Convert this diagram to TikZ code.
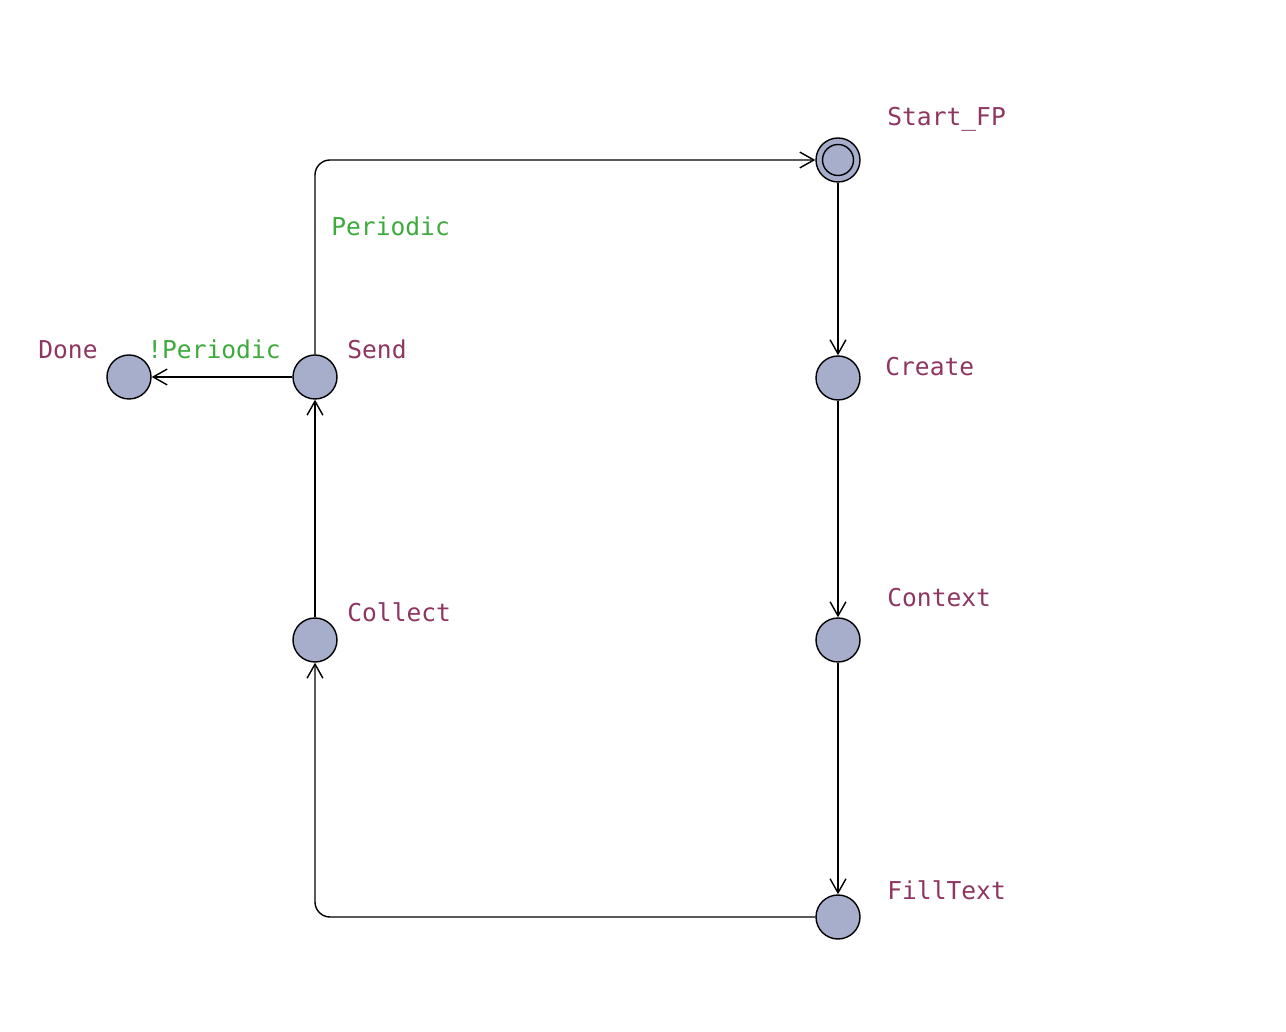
\documentclass[tikz,border=0pt]{standalone}
\usepackage{fontspec}
\setmonofont{DejaVu Sans Mono}
\usepackage{tikz}
\usetikzlibrary{arrows.meta}
\definecolor{locname}{HTML}{8E3560}
\definecolor{guard}{HTML}{3DAA3D}
\definecolor{locfill}{HTML}{A6AECC}
\tikzstyle{loc}=[draw=black,fill=locfill,line width=0.8pt,circle,minimum size=0.88cm,inner sep=0pt]
\tikzstyle{lname}=[text=locname,anchor=base west,inner sep=0pt,font=\ttfamily\fontsize{14}{16}\selectfont]
\tikzstyle{glabel}=[lname,text=guard]
\tikzstyle{trans}=[draw=black,line width=0.8pt,-{Straight Barb[length=8pt,width=9pt]}]

\begin{document}
\begin{tikzpicture}
        \useasboundingbox (0,0) rectangle (25.72,20.64);
        % locations
        \node[loc] (start) at (16.76,17.44) {};
        \node[draw=black,line width=0.8pt,circle,minimum size=0.62cm,inner sep=0pt] (startin) at (start) {};
        \node[loc] (create) at (16.76,13.08) {};
        \node[loc] (context) at (16.76,7.84) {};
        \node[loc] (fill) at (16.76,2.30) {};
        \node[loc] (collect) at (6.30,7.84) {};
        \node[loc] (send) at (6.30,13.10) {};
        \node[loc] (done) at (2.58,13.10) {};
        \coordinate (top) at (6.30,17.44);
        \coordinate (bot) at (6.30,2.30);
        % names
        \node[lname] (nstart) at (17.74,18.12) {Start\_FP};
        \node[lname] (ncreate) at (17.70,13.12) {Create};
        \node[lname] (ncontext) at (17.74,8.50) {Context};
        \node[lname] (nfill) at (17.74,2.64) {FillText};
        \node[lname] (ncollect) at (6.94,8.20) {Collect};
        \node[lname] (nsend) at (6.94,13.46) {Send};
        \node[lname] (ndone) at (0.76,13.46) {Done};
        % guards
        \node[glabel] (gper) at (6.62,15.92) {Periodic};
        \node[glabel] (gnotper) at (2.94,13.46) {!Periodic};
        % transitions
        \draw[trans] (start) -- (create);
        \draw[trans] (create) -- (context);
        \draw[trans] (context) -- (fill);
        \draw[trans,rounded corners=0.3cm] (fill) -- (bot) -- (collect);
        \draw[trans] (collect) -- (send);
        \draw[trans] (send) -- (done);
        \draw[trans,rounded corners=0.3cm] (send) -- (top) -- (start);
      \end{tikzpicture}
\end{document}
